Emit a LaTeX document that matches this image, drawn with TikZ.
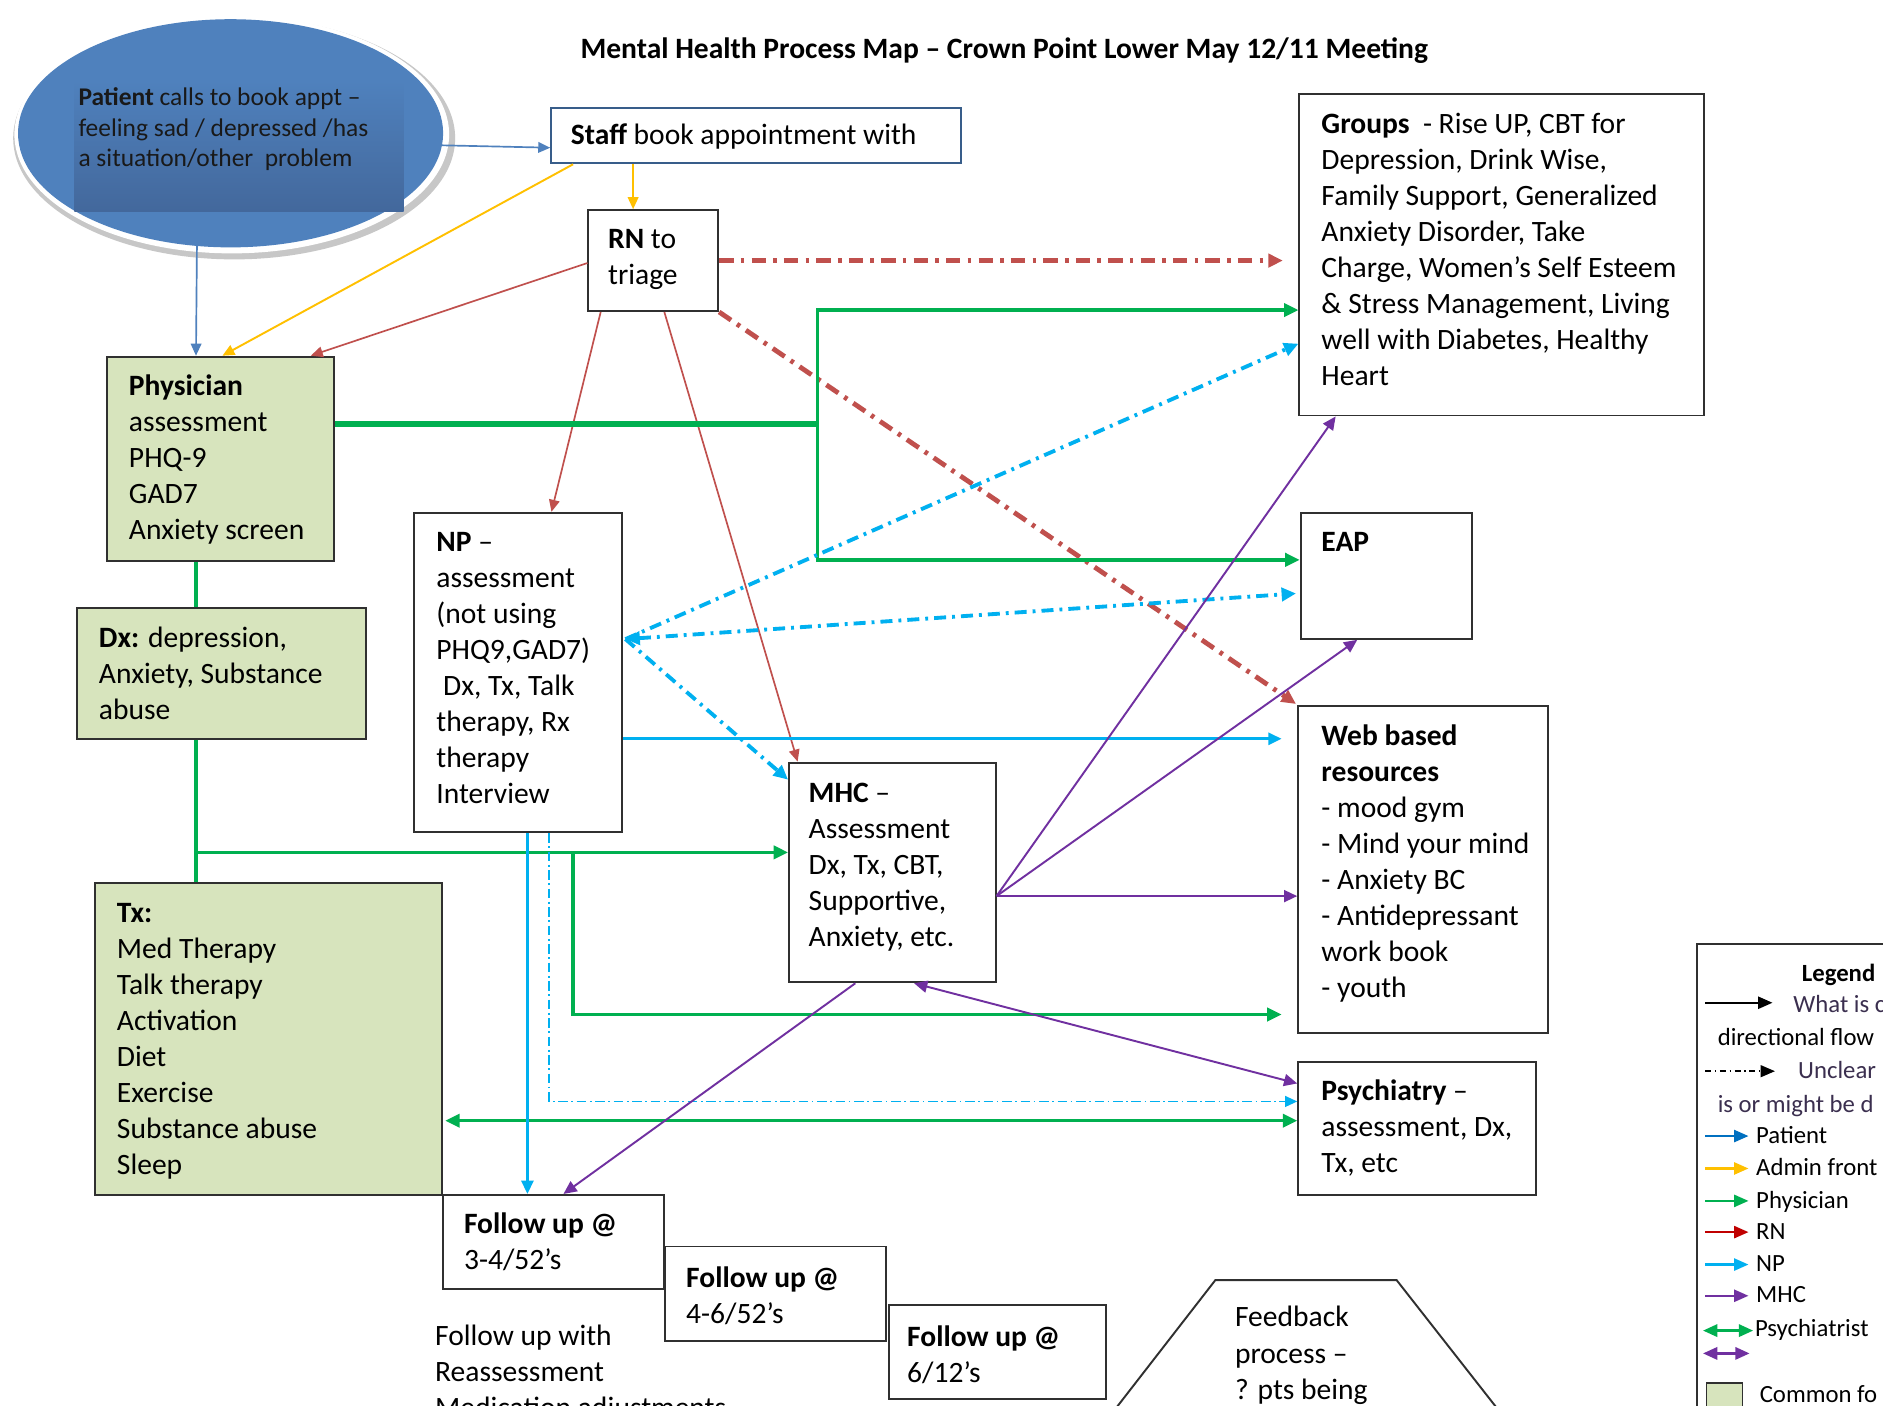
\documentclass[tikz,border=0pt]{standalone}
\usepackage{fontspec}
\setmainfont{Carlito}
\usetikzlibrary{arrows.meta,shapes.geometric,fit,calc}
\definecolor{boxgreen}{HTML}{D7E4BD}
\definecolor{boxline}{HTML}{303030}
\definecolor{patblue}{HTML}{4F81BD}
\definecolor{patbluel}{HTML}{0070C0}
\definecolor{patdark}{HTML}{43689C}
\definecolor{staffline}{HTML}{385D8A}
\definecolor{yel}{HTML}{FFC000}
\definecolor{rnred}{HTML}{C0504D}
\definecolor{rnredl}{HTML}{C00000}
\definecolor{grn}{HTML}{00B050}
\definecolor{cyn}{HTML}{00B0F0}
\definecolor{pur}{HTML}{7030A0}
\definecolor{lgtxt}{HTML}{3B2F4F}
\newcommand\mylines[1]{\begin{tabular}[t]{@{}l@{}}#1\end{tabular}}
\begin{document}
\begin{tikzpicture}[x=0.5pt,y=-0.5pt,
  >={Triangle[length=5pt,width=4.4pt]},
  box/.style={draw=boxline,line width=0.8pt,inner sep=0pt},
  gbox/.style={box,fill=boxgreen},
  txt/.style={anchor=base west,inner sep=0pt,font=\fontsize{12.3}{15}\selectfont,text=black},
  lg/.style={anchor=base west,inner sep=0pt,font=\fontsize{10.3}{13}\selectfont,text=black},
  ptline/.style={draw=patblue,line width=0.7pt},
  yline/.style={draw=yel,line width=0.8pt},
  rline/.style={draw=rnred,line width=0.7pt},
  rdash/.style={draw=rnred,line width=2pt,dash pattern=on 6pt off 3pt on 1.5pt off 3pt,>={Triangle[length=6pt,width=5.5pt]}},
  gline/.style={draw=grn,line width=1.4pt,>={Triangle[length=6pt,width=5.5pt]}},
  gthick/.style={draw=grn,line width=2.4pt},
  cline/.style={draw=cyn,line width=1.1pt,>={Triangle[length=5.5pt,width=5pt]}},
  cdash/.style={draw=cyn,line width=1.6pt,dash pattern=on 5pt off 2.5pt on 1.2pt off 2.5pt,>={Triangle[length=6pt,width=5.5pt]}},
  cthin/.style={draw=cyn,line width=0.6pt,dash pattern=on 4pt off 1.5pt on 0.7pt off 1.5pt},
  mline/.style={draw=pur,line width=0.8pt,>={Triangle[length=5.5pt,width=5pt]}},
  lgarrow/.style={line width=1pt,>={Triangle[length=6pt,width=5pt]}}
]
\useasboundingbox (0,0) rectangle (1568,1170);
\fill[white] (0,0) rectangle (1568,1170);
\clip (0,0) rectangle (1568,1170);

% title
\node[txt,font=\bfseries\fontsize{12.3}{15}\selectfont] (title) at (483,49)
  {Mental Health Process Map – Crown Point Lower May 12/11 Meeting};

% patient ellipse
\fill[black!22] (195,115) ellipse [x radius=184, y radius=101];
\fill[white] (193,112) ellipse [x radius=181, y radius=99];
\node[ellipse,fill=patblue,minimum width=177pt,minimum height=95pt,inner sep=0pt] (patient) at (192,111) {};
\shade[top color=patblue,bottom color=patdark] (62,67) rectangle (336,176);
\node[anchor=base west,inner sep=0pt,font=\fontsize{10.6}{12.75}\selectfont,text=black!90] (patientT) at (65,88)
  {\mylines{\textbf{Patient} calls to book appt –\\feeling sad / depressed /has\\a situation/other\ \ problem}};

% boxes
\node[box,draw=staffline,fit={(459,90) (800,136)}] (staff) {};
\node[box,fit={(490,175) (598,259)}] (rn) {};
\node[gbox,fit={(89,297) (278,467)}] (phys) {};
\node[gbox,fit={(64,506) (305,615)}] (dx) {};
\node[gbox,fit={(79,735) (368,995)}] (tx) {};
\node[box,fit={(345,427) (518,693)}] (np) {};
\node[box,fit={(657,635) (829,818)}] (mhc) {};
\node[box,fit={(1082,78) (1419,346)}] (groups) {};
\node[box,fit={(1083,427) (1226,532)}] (eap) {};
\node[box,fit={(1081,588) (1289,860)}] (web) {};
\node[box,fit={(1081,884) (1279,995)}] (psych) {};
\node[box,fit={(369,995) (553,1073)}] (fu1) {};
\node[box,fit={(554,1038) (738,1117)}] (fu2) {};
\node[box,fit={(740,1087) (921,1165)}] (fu3) {};

% box texts
\node[txt] (staffT) at (475,120) {\textbf{Staff} book appointment with};
\node[txt] (rnT) at (506,207) {\mylines{\textbf{RN} to\\triage}};
\node[txt] (physT) at (107,329) {\mylines{\textbf{Physician}\\assessment\\PHQ-9\\GAD7\\Anxiety screen}};
\node[txt] (dxT) at (82,539) {\mylines{\textbf{Dx:} depression,\\Anxiety, Substance\\abuse}};
\node[txt] (txT) at (97,768) {\mylines{\textbf{Tx:}\\Med Therapy\\Talk therapy\\Activation\\Diet\\Exercise\\Substance abuse\\Sleep}};
\node[txt] (npT) at (363,459) {\mylines{\textbf{NP} –\\assessment\\(not using\\PHQ9,GAD7)\\\ Dx, Tx, Talk\\therapy, Rx\\therapy\\Interview}};
\node[txt] (mhcT) at (673,668) {\mylines{\textbf{MHC} –\\Assessment\\Dx, Tx, CBT,\\Supportive,\\Anxiety, etc.}};
\node[txt] (groupsT) at (1100,111) {\mylines{\textbf{Groups}\ \ - Rise UP, CBT for\\Depression, Drink Wise,\\Family Support, Generalized\\Anxiety Disorder, Take\\Charge, Women’s Self Esteem\\\& Stress Management, Living\\well with Diabetes, Healthy\\Heart}};
\node[txt] (eapT) at (1100,459) {\textbf{EAP}};
\node[txt] (webT) at (1100,621) {\mylines{\textbf{Web based}\\\textbf{resources}\\- mood gym\\- Mind your mind\\- Anxiety BC\\- Antidepressant\\work book\\- youth}};
\node[txt] (psychT) at (1100,916) {\mylines{\textbf{Psychiatry} –\\assessment, Dx,\\Tx, etc}};
\node[txt] (fu1T) at (386,1027) {\mylines{\textbf{Follow up @}\\3-4/52’s}};
\node[txt] (fu2T) at (571,1072) {\mylines{\textbf{Follow up @}\\4-6/52’s}};
\node[txt] (fu3T) at (755,1121) {\mylines{\textbf{Follow up @}\\6/12’s}};
\node[txt] (fuwith) at (362,1120) {\mylines{Follow up with\\Reassessment\\Medication adjustments}};

% feedback shape
\draw[boxline,line width=0.8pt] (908,1200) -- (1012,1066) -- (1163,1066) -- (1268,1200);
\node[txt] (feedbackT) at (1028,1105) {\mylines{Feedback\\process –\\? pts being}};

% ---- connectors ----
% patient
\draw[ptline,->] ($(patient.east)+(-2,10)$) -- ($(staff.west)+(0,10)$);
\draw[ptline,->] ($(patient.south)+(-28,-2)$) -- ($(phys.north west)+(75,0)$);
% admin
\draw[yline,->] ($(staff.south west)+(69,0)$) -- ($(rn.north west)+(38,0)$);
\draw[yline,->] ($(staff.south west)+(19,0)$) -- ($(phys.north west)+(97,0)$);
% RN
\draw[rline,->] ($(rn.west)+(0,2)$) -- ($(phys.north east)+(-20,0)$);
\draw[rline,->] ($(rn.south west)+(11,0)$) -- ($(np.north west)+(115,0)$);
\draw[rline,->] ($(rn.south west)+(64,0)$) -- ($(mhc.north west)+(8,0)$);
\draw[rdash,->] (rn.east) -- ($(rn.east -| groups.west)+(-13,0)$);
\draw[rdash,->] (rn.south east) -- ($(web.north west)+(-1,-1)$);
% physician
\coordinate (gv) at ($(phys.north east)+(402,57)$);
\draw[gthick] ($(phys.north east)+(0,57)$) -- (gv);
\draw[gline,->] (gv) |- ($(groups.north west)+(0,181)$);
\draw[gline,->] (gv) |- ($(eap.north west)+(0,40)$);
\draw[gline] ($(phys.south west)+(75,0)$) -- ($(dx.north west)+(100,0)$);
\draw[gline] ($(dx.south west)+(100,0)$) -- ($(tx.north west)+(85,0)$);
\coordinate (gs) at ($(dx.south west)+(100,94)$);
\draw[gline,->] (gs) -- (gs -| mhc.west);
\coordinate (gd) at ($(gs)+(314,0)$);
\draw[gline,->] (gd) |- ($(web.south west)+(-13,-16)$);
\draw[gline,<->] ($(tx.north east)+(2,199)$) -- ($(psych.north west)+(0,50)$);
% NP
\coordinate (npc) at ($(np.north east)+(2,106)$);
\draw[cdash,->] (npc) -- ($(groups.north west)+(0,209)$);
\draw[cdash,<->] (npc) -- ($(eap.north west)+(-3,68)$);
\draw[cdash,->] (npc) -- ($(mhc.north west)+(0,15)$);
\draw[cline,->] ($(np.north east)+(0,189)$) -- ($(web.north west)+(-13,28)$);
\draw[cline,->] ($(np.south west)+(95,0)$) -- ($(fu1.north west)+(71,0)$);
\draw[cthin,->,>={Triangle[length=5pt,width=4.5pt]}] ($(np.south west)+(113,0)$) |- ($(psych.north west)+(0,34)$);
% MHC
\coordinate (mc) at ($(mhc.north east)+(0,112)$);
\draw[mline,->] (mc) -- ($(groups.south west)+(31,0)$);
\draw[mline,->] (mc) -- ($(eap.south west)+(48,0)$);
\draw[mline,->] (mc) -- (mc -| web.west);
\draw[mline,<->] ($(mhc.south west)+(105,0)$) -- ($(psych.north west)+(0,19)$);
\draw[mline,->] ($(mhc.south west)+(56,0)$) -- ($(fu1.north west)+(101,0)$);

% ---- legend ----
\node[box,line width=0.7pt,fit={(1413,786) (1640,1240)}] (legend) {};
\node[lg,anchor=base] (lgtitle) at (1531,817) {\textbf{Legend}};
\coordinate (lga) at (1420,835); \coordinate (lgb) at (1476,835);
\draw[lgarrow,black,->] (lga) -- (lgb);
\node[lg,text=lgtxt] (lgt1) at (1493,843) {What is c};
\node[lg] (lgt2) at (1430,871) {directional flow};
\coordinate (lgc) at (1420,892); \coordinate (lgd) at (1478,892);
\draw[lgarrow,black,line width=0.6pt,dash pattern=on 2.5pt off 1.5pt on 0.6pt off 1.5pt,->] (lgc) -- (lgd);
\node[lg,text=lgtxt] (lgt3) at (1497,898) {Unclear};
\node[lg,text=lgtxt] (lgt4) at (1430,926) {is or might be d};
\foreach \yy/\cc/\tt [count=\i] in {952/patbluel/Patient,979/yel/Admin front,1006/grn/Physician,1032/rnredl/RN,1059/cyn/NP,1085/pur/MHC}{
  \coordinate (lsa\i) at (1420,\yy-6);
  \coordinate (lsb\i) at (1456,\yy-6);
  \draw[lgarrow,draw=\cc,->] (lsa\i) -- (lsb\i);
  \node[lg] (lst\i) at (1462,\yy) {\tt};
}
\coordinate (lpa) at (1418,1108); \coordinate (lpb) at (1460,1108);
\draw[lgarrow,draw=grn,line width=1.3pt,<->] (lpa) -- (lpb);
\node[lg] (lpt) at (1461,1113) {Psychiatrist};
\coordinate (lqa) at (1418,1127); \coordinate (lqb) at (1457,1127);
\draw[lgarrow,draw=pur,line width=1.3pt,<->] (lqa) -- (lqb);
\node[gbox,fit={(1421,1152) (1451,1190)}] (lgsq) {};
\node[lg] (lgt5) at (1465,1168) {Common fo};
\end{tikzpicture}
\end{document}
